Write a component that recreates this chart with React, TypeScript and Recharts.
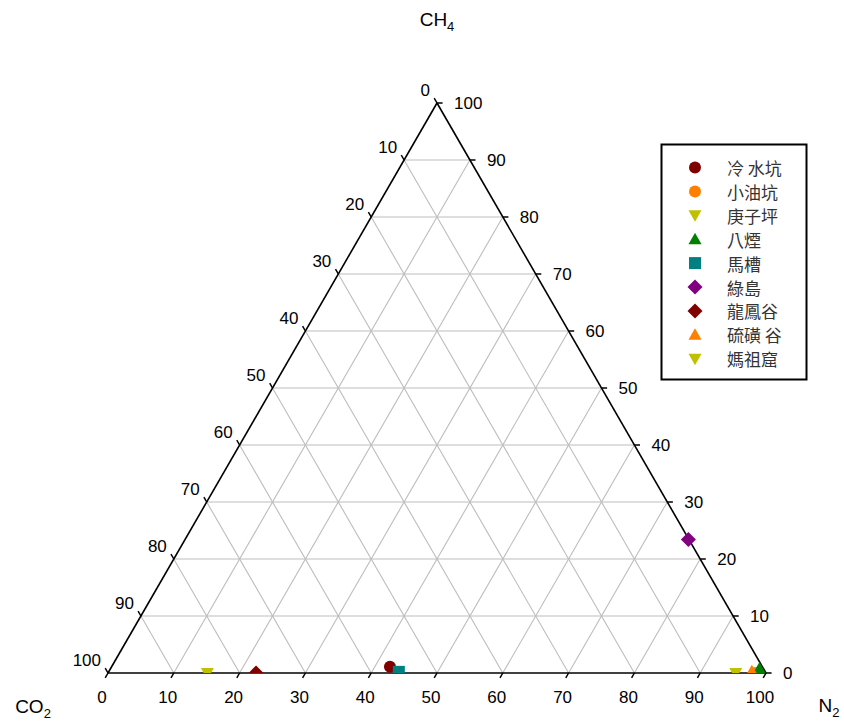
import { ScatterChart, Scatter, XAxis, YAxis, ReferenceLine, ReferenceDot } from "recharts";

// gas composition (%) per site: CO2, CH4, N2
const sites = ["冷 水坑", "小油坑", "庚子坪", "八煙", "馬槽", "綠島", "龍鳳谷", "硫磺 谷", "媽祖窟"];
const co2 = [56.6, 1.7, 4.6, 0.6, 55.7, 0.1, 77.5, 2.0, 84.9];
const ch4 = [1.1, 0.0, 0.0, 0.8, 0.2, 23.4, 0.0, 0.3, 0.0];
const n2 = [42.3, 98.3, 95.4, 98.6, 44.1, 76.5, 22.5, 97.7, 15.1];
const colors = ["#800000", "#ff8000", "#c0c000", "#008000", "#008080", "#800080", "#800000", "#ff8000", "#c0c000"];
const markers = ["circle", "circle", "down", "up", "square", "diamond", "diamond", "up", "down"];

const tickValues = [0, 10, 20, 30, 40, 50, 60, 70, 80, 90, 100];

const H = Math.sqrt(3) / 2;
const FONT = "'Liberation Sans', Arial, sans-serif";

const toXY = (c: number, m: number, n: number) => {
  const s = c + m + n;
  const pm = (m / s) * 100;
  const pn = (n / s) * 100;
  return { x: pn + pm / 2, y: pm * H };
};

const Marker = ({ cx, cy, kind, color }: any) => {
  switch (kind) {
    case "circle":
      return <circle cx={cx} cy={cy} r={6} fill={color} />;
    case "square":
      return <rect x={cx - 6} y={cy - 6} width={12} height={12} fill={color} />;
    case "diamond":
      return <polygon points={`${cx},${cy - 7.5} ${cx + 7.5},${cy} ${cx},${cy + 7.5} ${cx - 7.5},${cy}`} fill={color} />;
    case "up":
      return <polygon points={`${cx},${cy - 6.5} ${cx + 6.5},${cy + 5} ${cx - 6.5},${cy + 5}`} fill={color} />;
    default:
      return <polygon points={`${cx},${cy + 6.5} ${cx + 6.5},${cy - 5} ${cx - 6.5},${cy - 5}`} fill={color} />;
  }
};

const seg = (a: number[], b: number[]) => [{ x: a[0], y: a[1] }, { x: b[0], y: b[1] }];

const label = (text: any, dx: number, dy: number, anchor: string, size = 17) => (p: any) => (
  <text x={p.cx + dx} y={p.cy + dy} textAnchor={anchor} dominantBaseline="central" fontSize={size} fontFamily={FONT} fill="#000">
    {text}
  </text>
);

const Legend = () => (
  <svg width={148} height={238} style={{ position: "absolute", left: 660, top: 143 }}>
    <rect x={1.5} y={1.5} width={145} height={235} fill="#fff" stroke="#000" strokeWidth={2} />
    {sites.map((s, i) => {
      const cy = 24.5 + i * 23.9;
      return (
        <g key={s}>
          <Marker cx={35} cy={cy} kind={markers[i]} color={colors[i]} />
          <text x={67} y={cy} dominantBaseline="central" fontSize={17} fill="#333" fontFamily="'Noto Sans CJK TC', sans-serif">
            {s}
          </text>
        </g>
      );
    })}
  </svg>
);

export default function App() {
  const grid: any[] = [];
  for (let k = 10; k <= 90; k += 10) {
    grid.push(seg([k, 0], [k + (100 - k) / 2, (100 - k) * H]));
    grid.push(seg([k / 2, k * H], [100 - k / 2, k * H]));
    grid.push(seg([100 - k, 0], [(100 - k) / 2, (100 - k) * H]));
  }
  const L = 0.85;
  const ticks: any[] = [];
  tickValues.forEach((k) => {
    ticks.push(seg([k, 0], [k - 0.5 * L, -H * L]));
    const lx = (100 - k) / 2, ly = (100 - k) * H;
    ticks.push(seg([lx, ly], [lx - 0.5 * L, ly + H * L]));
    const rx = 100 - k / 2, ry = k * H;
    ticks.push(seg([rx, ry], [rx + L, ry]));
  });

  return (
    <div style={{ position: "absolute", left: 0, top: 0, width: 844, height: 722, background: "#fff" }}>
      <ScatterChart width={844} height={722} margin={{ top: 103, right: 78, bottom: 49, left: 108 }}>
        <XAxis type="number" dataKey="x" domain={[0, 100]} allowDataOverflow hide />
        <YAxis type="number" dataKey="y" domain={[0, 100 * H]} allowDataOverflow hide />
        {grid.map((s, i) => (
          <ReferenceLine key={"g" + i} segment={s} stroke="#bdbdbd" strokeWidth={1.1} ifOverflow="visible" />
        ))}
        <ReferenceLine segment={seg([0, 0], [100, 0])} stroke="#000" strokeWidth={1.6} ifOverflow="visible" />
        <ReferenceLine segment={seg([0, 0], [50, 100 * H])} stroke="#000" strokeWidth={1.6} ifOverflow="visible" />
        <ReferenceLine segment={seg([100, 0], [50, 100 * H])} stroke="#000" strokeWidth={1.6} ifOverflow="visible" />
        {ticks.map((s, i) => (
          <ReferenceLine key={"t" + i} segment={s} stroke="#000" strokeWidth={1.5} ifOverflow="visible" />
        ))}
        {tickValues.map((k) => (
          <ReferenceDot key={"bl" + k} x={k} y={0} r={0} ifOverflow="visible" shape={label(k, -6, 24, "middle")} />
        ))}
        {tickValues.map((k) => (
          <ReferenceDot key={"ll" + k} x={(100 - k) / 2} y={(100 - k) * H} r={0} ifOverflow="visible" shape={label(k, -7, -13, "end")} />
        ))}
        {tickValues.map((k) => (
          <ReferenceDot key={"rl" + k} x={100 - k / 2} y={k * H} r={0} ifOverflow="visible" shape={label(k, 17, 0, "start")} />
        ))}
        <ReferenceDot x={50} y={100 * H} r={0} ifOverflow="visible"
          shape={label(<><tspan>CH</tspan><tspan dy={7} fontSize={13}>4</tspan></>, 0, -84, "middle", 19)} />
        <ReferenceDot x={0} y={0} r={0} ifOverflow="visible"
          shape={label(<><tspan>CO</tspan><tspan dy={7} fontSize={13}>2</tspan></>, -75, 33, "middle", 19)} />
        <ReferenceDot x={100} y={0} r={0} ifOverflow="visible"
          shape={label(<><tspan>N</tspan><tspan dy={7} fontSize={13}>2</tspan></>, 63, 32, "middle", 19)} />
        {sites.map((s, i) => (
          <Scatter
            key={s}
            name={s}
            data={[toXY(co2[i], ch4[i], n2[i])]}
            isAnimationActive={false}
            shape={(p: any) => <Marker cx={p.cx} cy={p.cy} kind={markers[i]} color={colors[i]} />}
          />
        ))}
      </ScatterChart>
      <Legend />
    </div>
  );
}
